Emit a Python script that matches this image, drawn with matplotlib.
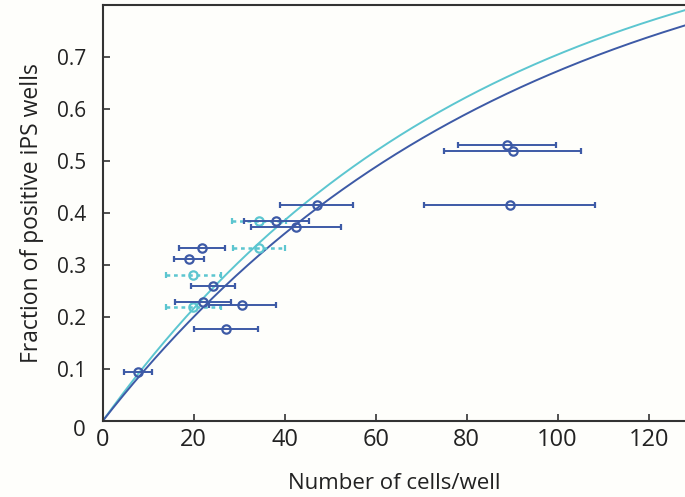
import numpy as np
import matplotlib
matplotlib.use("Agg")
import matplotlib.pyplot as plt

# Dark blue series
dark_x = [47.0, 38.2, 42.5, 21.8, 19.0, 24.2, 22.0, 30.7, 27.1, 7.7, 88.9, 90.1, 89.5]
dark_y = [0.415, 0.385, 0.374, 0.332, 0.311, 0.260, 0.229, 0.224, 0.177, 0.095, 0.531, 0.519, 0.416]
dark_xerr = [8.0, 7.1, 9.8, 5.0, 3.3, 4.8, 6.2, 7.4, 7.1, 3.1, 10.8, 15.1, 18.8]
# Light (cyan) series
light_x = [34.4, 34.4, 19.9, 19.9]
light_y = [0.385, 0.332, 0.281, 0.219]
light_xerr = [5.9, 5.7, 6.0, 6.0]
# Fitted curve scale parameters: y = 1 - exp(-x/k)
dark_k = 89.5
light_k = 82.0

x_ticks = [0, 20, 40, 60, 80, 100, 120]
y_ticks = [0.1, 0.2, 0.3, 0.4, 0.5, 0.6, 0.7]
y_ticklabels = ["0.1", "0.2", "0.3", "0.4", "0.5", "0.6", "0.7"]

dark_c = "#3d5aa6"
light_c = "#5cc6d0"
txt_c = "#222222"

plt.rcParams['font.family'] = ['Open Sans', 'DejaVu Sans']

fig = plt.figure(figsize=(6.85, 4.97), dpi=100)
fig.patch.set_facecolor("#fefefb")
ax = fig.add_axes([102.7/685, (497-421)/497, (685-102.7)/685, (421-5)/497])
ax.set_facecolor("#fefefb")

xs = np.linspace(0, 130, 400)
ax.plot(xs, 1 - np.exp(-xs / light_k), color=light_c, lw=1.4, zorder=2)
ax.plot(xs, 1 - np.exp(-xs / dark_k), color=dark_c, lw=1.4, zorder=2)

eb = ax.errorbar(light_x, light_y, xerr=light_xerr, fmt='o', mfc='none', mec=light_c,
                 ms=6, mew=1.6, ecolor=light_c, elinewidth=1.8, capsize=2.5, capthick=1.4,
                 zorder=3)
eb[2][0].set_linestyle((0, (1.5, 1.5)))
ax.errorbar(dark_x, dark_y, xerr=dark_xerr, fmt='o', mfc='none', mec=dark_c,
            ms=6, mew=1.6, ecolor=dark_c, elinewidth=1.4, capsize=2.5, capthick=1.2,
            zorder=4)

ax.set_xlim(0, 128)
ax.set_ylim(0, 0.8)
ax.spines['right'].set_visible(False)
for s in ['left', 'bottom', 'top']:
    ax.spines[s].set_linewidth(1.5)
    ax.spines[s].set_color("#333333")
ax.set_xticks(x_ticks)
ax.set_yticks(y_ticks)
ax.set_yticklabels(y_ticklabels)
ax.tick_params(axis='both', direction='in', length=5, width=1.2, color="#333333",
               labelcolor=txt_c)
ax.tick_params(axis='y', pad=12, labelsize=15)
ax.tick_params(axis='x', pad=5, labelsize=17, top=False)

ax.text(-0.041, -0.022, "0", transform=ax.transAxes, ha='center', va='center',
        fontsize=16, color=txt_c)

ax.set_xlabel("Number of cells/well", fontsize=16, color=txt_c, labelpad=15)
ax.set_ylabel("Fraction of positive iPS wells", fontsize=16.5, color=txt_c, labelpad=9)

fig.savefig("out.png", dpi=100, facecolor=fig.get_facecolor())
